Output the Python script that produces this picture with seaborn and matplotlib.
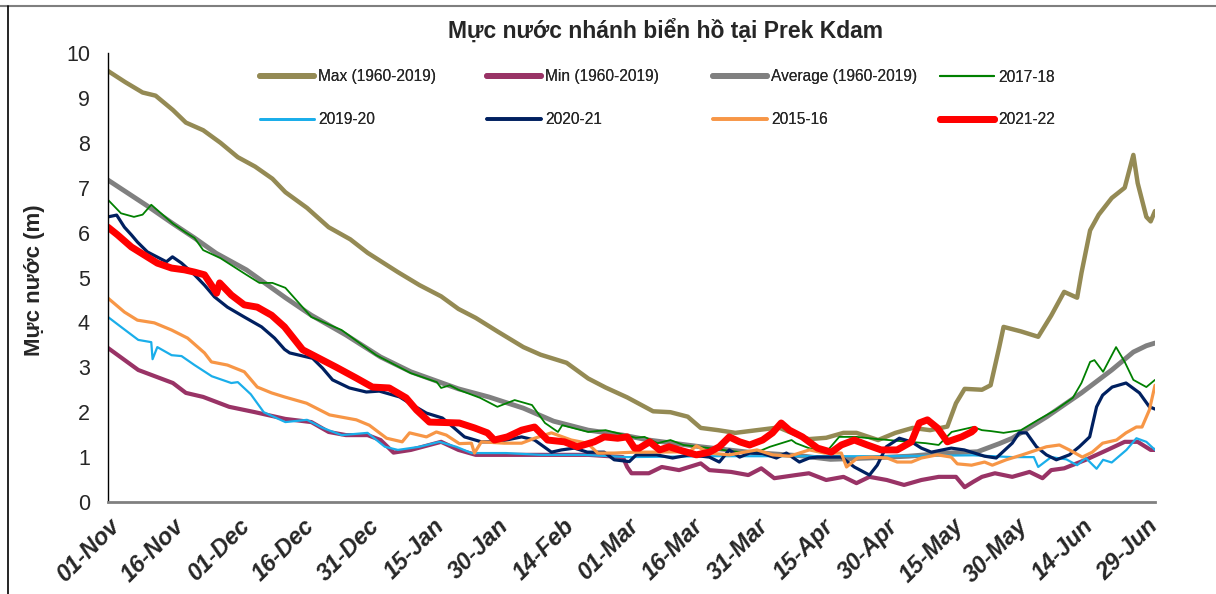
import matplotlib
matplotlib.use("Agg")
import matplotlib.pyplot as plt
import seaborn as sns
from matplotlib.lines import Line2D

sns.set_style("white")
plt.rcParams['font.family'] = ['Liberation Sans', 'DejaVu Sans']

# Trục x: số ngày kể từ 01-Nov
tick_days = [0, 15, 30, 45, 60, 75, 90, 105, 120, 135, 150, 165, 180, 195, 210, 225, 240]
tick_labels = ["01-Nov", "16-Nov", "01-Dec", "16-Dec", "31-Dec", "15-Jan", "30-Jan", "14-Feb",
               "01-Mar", "16-Mar", "31-Mar", "15-Apr", "30-Apr", "15-May", "30-May", "14-Jun", "29-Jun"]

# Max (1960-2019)
max_days = [0, 4, 8, 11, 15, 18, 22, 26, 30, 34, 38, 41, 46, 51, 56, 60, 67, 72, 77, 81,
            85, 90, 96, 100, 106, 111, 115, 120, 126, 130, 134, 137, 141, 145, 150, 155, 159, 162, 166, 170,
            173, 178, 182, 186, 190, 194, 196, 198, 202, 204, 206, 207, 211, 215, 218, 221, 224, 225, 227, 229,
            232, 235, 237, 238, 240, 241, 242]
max_vals = [9.6, 9.35, 9.12, 9.05, 8.73, 8.45, 8.28, 8.0, 7.68, 7.47, 7.2, 6.9, 6.55, 6.12, 5.85, 5.55, 5.12, 4.83, 4.58, 4.3,
            4.1, 3.8, 3.45, 3.28, 3.1, 2.75, 2.55, 2.33, 2.02, 2.0, 1.9, 1.65, 1.6, 1.54, 1.6, 1.66, 1.5, 1.4, 1.43, 1.54,
            1.54, 1.38, 1.54, 1.65, 1.6, 1.68, 2.2, 2.52, 2.5, 2.6, 3.45, 3.9, 3.8, 3.68, 4.15, 4.68, 4.55, 5.1, 6.05, 6.4,
            6.77, 7.0, 7.73, 7.1, 6.35, 6.25, 6.48]

# Min (1960-2019)
min_days = [0, 7, 15, 18, 22, 28, 34, 41, 47, 51, 55, 60, 63, 66, 70, 77, 81, 85, 96, 111,
            119, 120, 121, 125, 128, 132, 137, 139, 144, 148, 151, 154, 159, 162, 166, 170, 173, 176, 180, 184,
            188, 192, 196, 198, 200, 202, 205, 209, 213, 216, 218, 221, 226, 231, 235, 238, 241, 242]
min_vals = [3.43, 2.94, 2.65, 2.43, 2.34, 2.12, 2.0, 1.85, 1.78, 1.56, 1.49, 1.49, 1.38, 1.1, 1.16, 1.34, 1.16, 1.05, 1.05, 1.05,
            1.0, 0.78, 0.64, 0.64, 0.78, 0.71, 0.86, 0.71, 0.67, 0.6, 0.75, 0.53, 0.6, 0.64, 0.49, 0.56, 0.42, 0.56, 0.49, 0.38,
            0.49, 0.56, 0.56, 0.33, 0.45, 0.56, 0.64, 0.56, 0.67, 0.53, 0.71, 0.75, 0.94, 1.16, 1.34, 1.34, 1.16, 1.16]

# Average (1960-2019)
avg_days = [0, 9, 15, 20, 25, 32, 41, 47, 55, 63, 70, 81, 88, 96, 103, 111, 119, 125, 137, 148,
            160, 167, 176, 185, 194, 201, 206, 209, 217, 225, 232, 237, 240, 242]
avg_vals = [7.17, 6.6, 6.2, 5.88, 5.54, 5.17, 4.55, 4.16, 3.72, 3.23, 2.9, 2.52, 2.34, 2.09, 1.8, 1.6, 1.49, 1.38, 1.23, 1.11,
            1.03, 0.95, 0.98, 1.02, 1.09, 1.12, 1.3, 1.42, 1.9, 2.43, 2.94, 3.34, 3.48, 3.54]

# 2017-18
g_days = [0, 3, 6, 8, 10, 15, 18, 20, 22, 26, 32, 35, 38, 41, 47, 54, 62, 70, 76, 77,
          79, 81, 86, 90, 94, 98, 101, 104, 105, 111, 115, 122, 124, 127, 130, 133, 139, 146, 150, 153,
          158, 159, 162, 166, 169, 173, 178, 184, 189, 192, 195, 200, 202, 204, 207, 211, 215, 219, 223, 225,
          227, 228, 230, 233, 235, 237, 240, 242]
g_vals = [6.73, 6.43, 6.35, 6.4, 6.62, 6.2, 6.0, 5.88, 5.61, 5.43, 5.06, 4.88, 4.88, 4.77, 4.12, 3.83, 3.27, 2.87, 2.67, 2.54,
          2.6, 2.5, 2.32, 2.12, 2.27, 2.16, 1.76, 1.56, 1.71, 1.56, 1.6, 1.43, 1.45, 1.31, 1.38, 1.27, 1.2, 1.11, 1.11, 1.23,
          1.38, 1.31, 1.2, 1.11, 1.45, 1.45, 1.4, 1.35, 1.31, 1.27, 1.56, 1.67, 1.6, 1.58, 1.54, 1.6, 1.83, 2.05, 2.32, 2.65,
          3.12, 3.16, 2.9, 3.45, 3.12, 2.72, 2.56, 2.72]

# 2019-20
lb_days = [0, 3, 7, 10, 10.3, 11.4, 14.7, 17, 20, 24, 28.5, 30, 33, 36, 41, 46, 49.6, 54, 60, 64,
           67, 72, 76.6, 80.5, 84, 92, 100, 110, 120, 140, 160, 180, 200, 209, 214, 215, 218, 221.5, 224, 226,
           228.5, 230, 232, 235.4, 237.7, 240, 242]
lb_vals = [4.12, 3.9, 3.61, 3.56, 3.18, 3.45, 3.27, 3.25, 3.05, 2.8, 2.65, 2.67, 2.4, 2.0, 1.78, 1.83, 1.65, 1.49, 1.54, 1.23,
           1.16, 1.23, 1.34, 1.23, 1.09, 1.09, 1.05, 1.05, 1.0, 1.02, 1.02, 1.02, 1.04, 1.0, 1.0, 0.78, 1.0, 0.95, 0.82, 0.98,
           0.74, 0.94, 0.88, 1.16, 1.42, 1.34, 1.16]

# 2020-21
nv_days = [0, 2, 3.8, 5.4, 6.8, 9.1, 13.5, 14.9, 17, 20, 22.3, 24.6, 27.6, 31.5, 35.5, 38.5, 40.8, 42, 47.3, 49.6,
           51.9, 55.8, 59.7, 62.7, 67.4, 70.4, 73.6, 77.3, 80, 82.4, 86.3, 90, 95.6, 98.6, 102.5, 104.8, 107.8, 110.8, 114.7, 117,
           120.5, 122.1, 126.8, 130.5, 134.4, 139, 141.3, 143.6, 146, 148.3, 151.3, 154.5, 156.8, 159.8, 162.1, 163.9, 169.5, 172.5, 176, 177.8,
           179.9, 182.9, 185.7, 188, 190.3, 194.9, 197.9, 202.6, 205.3, 209, 210.6, 212.3, 214.6, 216.9, 219.2, 222.2, 224.5, 226.9, 228.5, 229.9,
           232.1, 235.3, 238.4, 240.7, 242]
nv_vals = [6.35, 6.39, 6.12, 5.95, 5.79, 5.57, 5.35, 5.46, 5.32, 5.06, 4.83, 4.57, 4.34, 4.12, 3.9, 3.65, 3.4, 3.32, 3.2, 2.98,
           2.72, 2.54, 2.45, 2.47, 2.34, 2.16, 1.98, 1.87, 1.65, 1.45, 1.34, 1.34, 1.45, 1.38, 1.11, 1.16, 1.2, 1.11, 1.11, 0.94,
           0.9, 1.05, 1.05, 0.98, 1.05, 1.0, 0.89, 1.16, 1.0, 1.09, 1.08, 0.98, 1.09, 0.89, 0.98, 1.0, 1.0, 0.78, 0.6, 0.82,
           1.23, 1.42, 1.34, 1.2, 1.11, 1.2, 1.16, 1.02, 0.98, 1.31, 1.54, 1.54, 1.23, 1.05, 0.94, 1.05, 1.23, 1.45, 2.12, 2.38,
           2.56, 2.65, 2.43, 2.12, 2.07]

# 2015-16
or_days = [0, 3.8, 6.8, 10.7, 14.7, 18.4, 22.3, 23.9, 27.6, 31.5, 34.5, 37.8, 40.8, 45.9, 51.2, 57.4, 60.4, 64.4, 68, 69.7,
           73.6, 75.9, 78.2, 81.2, 84, 84.7, 86.3, 91.6, 95.6, 98.6, 102.5, 107.1, 110.8, 113.2, 117, 121.7, 125.2, 134.4, 136, 139,
           143.6, 150, 153.6, 157.5, 162.1, 165.6, 169.5, 170.7, 173.2, 176.5, 180.1, 182.4, 185.7, 188, 191.7, 194.9, 196.3, 199.6, 202.6, 204.4,
           207.6, 211.3, 216.9, 219.9, 222.2, 225.2, 227.5, 229.9, 233.1, 235.3, 237.7, 239, 240.7, 242]
or_vals = [4.54, 4.23, 4.05, 3.99, 3.83, 3.65, 3.32, 3.12, 3.05, 2.9, 2.56, 2.43, 2.34, 2.2, 1.94, 1.83, 1.71, 1.42, 1.34, 1.54,
           1.45, 1.56, 1.49, 1.3, 1.31, 1.09, 1.34, 1.31, 1.31, 1.42, 1.54, 1.38, 1.31, 1.09, 1.09, 1.11, 1.11, 1.12, 1.25, 1.09,
           1.05, 1.16, 1.05, 1.02, 1.16, 1.09, 1.09, 0.78, 0.98, 1.0, 0.98, 0.89, 0.89, 0.98, 1.05, 1.0, 0.85, 0.82, 0.89, 0.82,
           0.94, 1.05, 1.23, 1.27, 1.16, 1.0, 1.11, 1.31, 1.38, 1.54, 1.67, 1.67, 2.05, 2.6]

# 2021-22
rd_days = [0, 2.2, 5.4, 8.4, 11.4, 14.7, 17.7, 20, 22.3, 23.9, 25.1, 25.8, 28.5, 31.5, 34.5, 37.8, 40.8, 45, 48.2, 52.8,
           57.4, 61.1, 65, 68.9, 71.3, 74.3, 81.2, 84.7, 87.7, 89.3, 92.3, 95.6, 98.6, 101.6, 105.5, 108.5, 112.4, 114.7, 117.8, 120,
           121.7, 122.8, 125.2, 127.5, 129.7, 132, 136, 139, 141.3, 143.6, 146, 148.3, 151.3, 153.6, 155.6, 157.5, 160.5, 164, 167.2, 169.5,
           172.5, 175.5, 178.7, 182.4, 185.7, 187.5, 189.4, 191.7, 194, 197.3, 199.6, 200.3]
rd_vals = [6.12, 5.95, 5.68, 5.5, 5.32, 5.21, 5.17, 5.12, 5.06, 4.83, 4.65, 4.88, 4.61, 4.39, 4.34, 4.16, 3.9, 3.39, 3.23, 3.0,
           2.76, 2.56, 2.54, 2.32, 2.05, 1.78, 1.76, 1.65, 1.54, 1.38, 1.45, 1.6, 1.67, 1.38, 1.34, 1.23, 1.34, 1.45, 1.42, 1.45,
           1.2, 1.2, 1.34, 1.16, 1.23, 1.16, 1.05, 1.11, 1.23, 1.45, 1.34, 1.27, 1.38, 1.54, 1.76, 1.6, 1.45, 1.2, 1.11, 1.27,
           1.38, 1.27, 1.16, 1.16, 1.34, 1.76, 1.83, 1.65, 1.34, 1.45, 1.56, 1.62]

# (nhãn, ngày, giá trị, màu, độ dày đường, độ dày trong chú giải)
series = [
    ("Max (1960-2019)", max_days, max_vals, "#948A54", 3.2, 4.2),
    ("Min (1960-2019)", min_days, min_vals, "#993366", 3.0, 4.2),
    ("Average (1960-2019)", avg_days, avg_vals, "#808080", 3.5, 4.2),
    ("2017-18", g_days, g_vals, "#008000", 1.3, 1.5),
    ("2019-20", lb_days, lb_vals, "#1AAEEA", 1.6, 2.0),
    ("2020-21", nv_days, nv_vals, "#002060", 2.3, 2.6),
    ("2015-16", or_days, or_vals, "#F79646", 2.3, 2.6),
    ("2021-22", rd_days, rd_vals, "#FF0000", 5.0, 5.0),
]

W, H = 1216, 594
fig = plt.figure(figsize=(W / 100, H / 100), dpi=100)
ax = fig.add_axes([108 / W, 1 - 502 / H, (1155 - 108) / W, (502 - 53) / H])

handles = {}
for name, d, v, c, lw, lw_leg in series:
    sns.lineplot(x=d, y=v, ax=ax, color=c, linewidth=lw, label=name,
                 sort=False, estimator=None)
    handles[name] = Line2D([], [], color=c, linewidth=lw_leg)
if ax.get_legend() is not None:
    ax.get_legend().remove()

ax.set_xlim(0, 242)
ax.set_ylim(0, 10)
ax.set_yticks(range(0, 11))
ax.set_xticks(tick_days)
ax.set_xticklabels(tick_labels, rotation=45, ha="right", rotation_mode="anchor",
                   fontsize=17, fontweight="bold", fontstyle="italic")
ax.tick_params(axis="x", direction="out", length=5, width=1, color="#808080", pad=4)
ax.tick_params(axis="y", direction="out", length=5, width=1, color="black", labelsize=15.5, pad=8)
ax.set_xlabel("")
ax.set_ylabel("")

for s in ["top", "right"]:
    ax.spines[s].set_visible(False)
ax.spines["left"].set_color("black")
ax.spines["left"].set_linewidth(1.0)
ax.spines["bottom"].set_color("#808080")
ax.spines["bottom"].set_linewidth(2.0)

# Chú giải: 4 cột, 2 hàng
cols = [["Max (1960-2019)", "2019-20"], ["Min (1960-2019)", "2020-21"],
        ["Average (1960-2019)", "2015-16"], ["2017-18", "2021-22"]]
col_x = [260, 487, 713, 940]
for names, x0 in zip(cols, col_x):
    leg = fig.legend([handles[n] for n in names], names, loc="center left",
                     bbox_to_anchor=(x0 / W, 1 - 98.5 / H), frameon=False,
                     fontsize=11.2, handlelength=3.5, handletextpad=0.25,
                     labelspacing=1.8, borderpad=0, borderaxespad=0)
    fig.add_artist(leg)

fig.text(665 / W, 1 - 31 / H, "Mực nước nhánh biển hồ tại Prek Kdam",
         ha="center", va="center", fontsize=16.5, fontweight="bold")
fig.text(35 / W, 1 - 280 / H, "Mực nước (m)", ha="center", va="center",
         rotation=90, fontsize=16, fontweight="bold")

# khung biểu đồ
fig.add_artist(Line2D([0, 1], [1 - 6 / H, 1 - 6 / H], transform=fig.transFigure,
                      color="#7F7F7F", linewidth=1.5))
fig.add_artist(Line2D([8 / W, 8 / W], [0, 1 - 6 / H], transform=fig.transFigure,
                      color="black", linewidth=1.2))

fig.savefig("out.png", dpi=100)
